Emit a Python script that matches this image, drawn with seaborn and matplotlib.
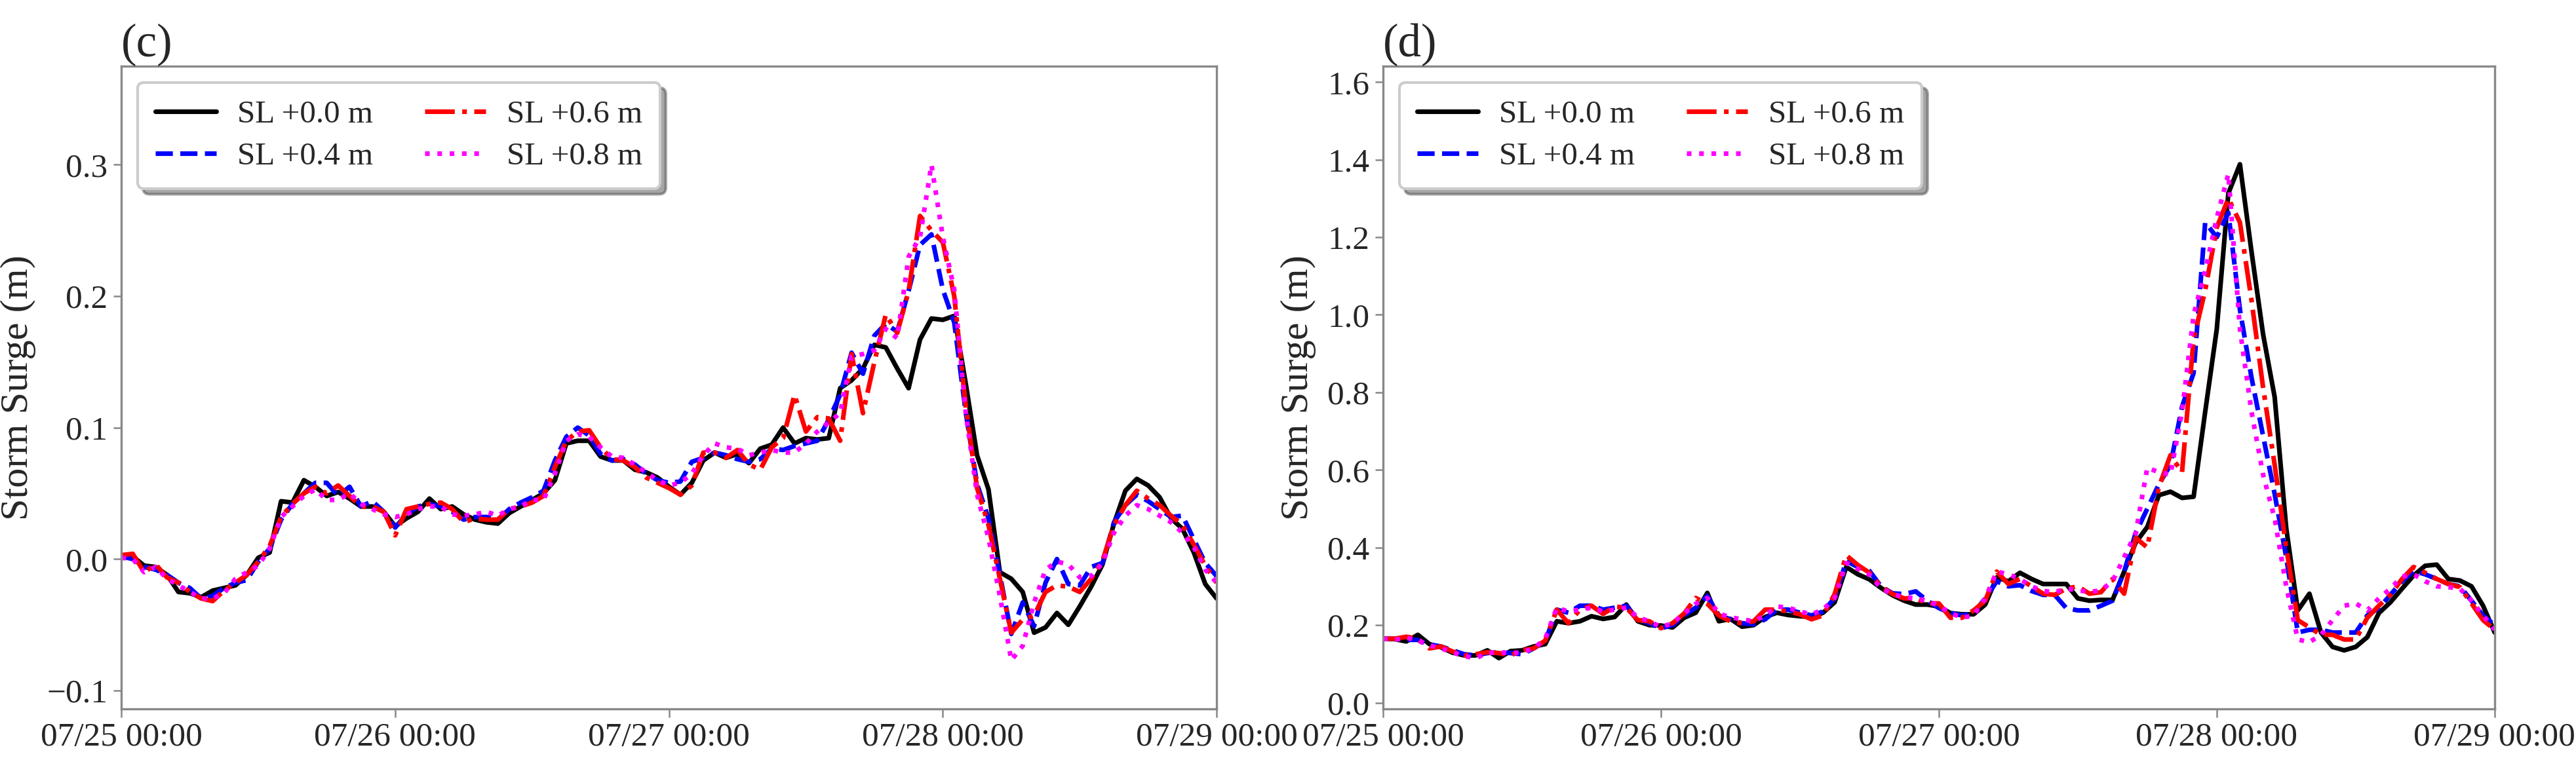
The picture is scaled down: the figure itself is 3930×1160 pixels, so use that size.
import matplotlib
matplotlib.use("Agg")
import matplotlib.pyplot as plt
import matplotlib.dates as mdates
import seaborn as sns
import pandas as pd

# hourly storm surge (m), 07/25 00:00 - 07/29 00:00
start = "2021-07-25 00:00"
labels = ["SL +0.0 m", "SL +0.4 m", "SL +0.6 m", "SL +0.8 m"]

c_sl00 = [0.003, 0.002, -0.005, -0.006, -0.012, -0.025, -0.026, -0.029, -0.024, -0.022, -0.020, -0.012,
          0.001, 0.005, 0.044, 0.043, 0.060, 0.055, 0.048, 0.051, 0.046, 0.040, 0.040, 0.036,
          0.025, 0.031, 0.036, 0.046, 0.038, 0.040, 0.034, 0.030, 0.028, 0.027, 0.035, 0.040,
          0.045, 0.050, 0.060, 0.088, 0.090, 0.090, 0.078, 0.075, 0.075, 0.068, 0.066, 0.062,
          0.055, 0.049, 0.058, 0.075, 0.081, 0.077, 0.080, 0.073, 0.084, 0.087, 0.100, 0.088,
          0.092, 0.091, 0.092, 0.130, 0.136, 0.145, 0.163, 0.161, 0.145, 0.130, 0.167, 0.183,
          0.182, 0.185, 0.134, 0.079, 0.053, -0.010, -0.015, -0.025, -0.056, -0.052, -0.041, -0.050,
          -0.036, -0.021, -0.004, 0.027, 0.052, 0.061, 0.056, 0.047, 0.031, 0.023, 0.005, -0.019,
          -0.030]
c_sl04 = [0.002, 0.000, -0.006, -0.008, -0.012, -0.018, -0.022, -0.030, -0.028, -0.022, -0.018, -0.016,
          -0.002, 0.008, 0.030, 0.042, 0.050, 0.058, 0.058, 0.048, 0.055, 0.040, 0.044, 0.036,
          0.024, 0.034, 0.040, 0.042, 0.040, 0.036, 0.030, 0.032, 0.032, 0.030, 0.038, 0.043,
          0.047, 0.052, 0.075, 0.093, 0.100, 0.094, 0.080, 0.075, 0.076, 0.072, 0.065, 0.060,
          0.058, 0.059, 0.074, 0.077, 0.081, 0.079, 0.076, 0.074, 0.076, 0.084, 0.083, 0.086,
          0.088, 0.090, 0.106, 0.125, 0.157, 0.141, 0.170, 0.179, 0.173, 0.204, 0.239, 0.247,
          0.205, 0.180, 0.112, 0.057, 0.031, -0.012, -0.057, -0.033, -0.051, -0.018, 0.000, -0.019,
          -0.020, -0.006, -0.003, 0.028, 0.041, 0.049, 0.044, 0.038, 0.032, 0.033, 0.015, -0.003,
          -0.013]
c_sl06 = [0.003, 0.004, -0.010, -0.004, -0.014, -0.018, -0.025, -0.030, -0.032, -0.024, -0.018, -0.012,
          -0.002, 0.010, 0.032, 0.042, 0.050, 0.055, 0.050, 0.056, 0.048, 0.040, 0.040, 0.036,
          0.018, 0.038, 0.040, 0.042, 0.043, 0.038, 0.028, 0.031, 0.030, 0.030, 0.038, 0.040,
          0.043, 0.048, 0.070, 0.090, 0.097, 0.098, 0.085, 0.076, 0.075, 0.070, 0.062, 0.058,
          0.054, 0.049, 0.056, 0.081, 0.081, 0.077, 0.083, 0.072, 0.068, 0.085, 0.092, 0.125,
          0.097, 0.108, 0.107, 0.090, 0.156, 0.111, 0.150, 0.186, 0.172, 0.204, 0.261, 0.250,
          0.241, 0.200, 0.117, 0.054, 0.026, -0.015, -0.056, -0.046, -0.043, -0.025, -0.020, -0.021,
          -0.025, -0.015, -0.001, 0.026, 0.041, 0.052, 0.046, 0.041, 0.033, 0.026, 0.011, -0.005,
          -0.018]
c_sl08 = [0.001, 0.000, -0.010, -0.006, -0.015, -0.020, -0.025, -0.030, -0.030, -0.026, -0.015, -0.010,
          -0.005, 0.008, 0.032, 0.040, 0.048, 0.053, 0.045, 0.045, 0.050, 0.042, 0.038, 0.034,
          0.032, 0.034, 0.038, 0.040, 0.040, 0.034, 0.033, 0.034, 0.036, 0.033, 0.038, 0.040,
          0.045, 0.045, 0.065, 0.090, 0.095, 0.093, 0.085, 0.078, 0.077, 0.072, 0.066, 0.060,
          0.056, 0.058, 0.065, 0.079, 0.088, 0.085, 0.084, 0.079, 0.081, 0.083, 0.081, 0.081,
          0.088, 0.097, 0.104, 0.111, 0.154, 0.156, 0.159, 0.175, 0.168, 0.230, 0.245, 0.300,
          0.245, 0.205, 0.112, 0.049, 0.016, -0.028, -0.077, -0.066, -0.033, -0.008, -0.002, -0.004,
          -0.014, -0.013, -0.003, 0.020, 0.033, 0.041, 0.038, 0.033, 0.028, 0.020, 0.009, -0.008,
          -0.018]

d_sl00 = [0.165, 0.164, 0.158, 0.175, 0.151, 0.143, 0.129, 0.122, 0.122, 0.135, 0.115, 0.133,
          0.135, 0.145, 0.151, 0.210, 0.205, 0.210, 0.223, 0.216, 0.221, 0.253, 0.210, 0.200,
          0.199, 0.194, 0.219, 0.232, 0.283, 0.210, 0.216, 0.196, 0.200, 0.221, 0.232, 0.226,
          0.223, 0.221, 0.232, 0.259, 0.350, 0.331, 0.318, 0.296, 0.277, 0.263, 0.253, 0.253,
          0.248, 0.231, 0.228, 0.228, 0.253, 0.323, 0.313, 0.335, 0.319, 0.306, 0.306, 0.306,
          0.269, 0.263, 0.265, 0.265, 0.338, 0.413, 0.453, 0.535, 0.544, 0.528, 0.531, 0.750,
          0.963, 1.313, 1.388, 1.163, 0.950, 0.788, 0.450, 0.238, 0.281, 0.181, 0.144, 0.135,
          0.144, 0.169, 0.231, 0.259, 0.294, 0.328, 0.353, 0.356, 0.319, 0.315, 0.300, 0.250,
          0.181]
d_sl04 = [0.165, 0.165, 0.162, 0.162, 0.150, 0.145, 0.135, 0.125, 0.122, 0.128, 0.130, 0.128,
          0.125, 0.140, 0.158, 0.240, 0.232, 0.250, 0.250, 0.240, 0.245, 0.250, 0.215, 0.205,
          0.192, 0.200, 0.225, 0.245, 0.275, 0.225, 0.215, 0.205, 0.202, 0.215, 0.240, 0.240,
          0.232, 0.225, 0.235, 0.270, 0.365, 0.350, 0.340, 0.300, 0.282, 0.280, 0.287, 0.263,
          0.244, 0.231, 0.225, 0.231, 0.269, 0.313, 0.300, 0.303, 0.288, 0.278, 0.278, 0.244,
          0.238, 0.238, 0.250, 0.263, 0.338, 0.438, 0.500, 0.563, 0.613, 0.763, 0.850, 1.238,
          1.200, 1.263, 1.013, 0.838, 0.688, 0.538, 0.375, 0.181, 0.188, 0.188, 0.181, 0.181,
          0.181, 0.225, 0.244, 0.278, 0.313, 0.340, 0.331, 0.319, 0.306, 0.300, 0.263, 0.225,
          0.200]
d_sl06 = [0.165, 0.165, 0.170, 0.165, 0.140, 0.145, 0.132, 0.122, 0.125, 0.130, 0.128, 0.122,
          0.135, 0.140, 0.160, 0.240, 0.205, 0.240, 0.250, 0.229, 0.248, 0.245, 0.213, 0.210,
          0.192, 0.205, 0.230, 0.270, 0.255, 0.225, 0.210, 0.205, 0.210, 0.240, 0.240, 0.235,
          0.228, 0.215, 0.225, 0.280, 0.380, 0.355, 0.335, 0.300, 0.280, 0.269, 0.269, 0.256,
          0.256, 0.219, 0.219, 0.238, 0.263, 0.338, 0.306, 0.319, 0.300, 0.281, 0.278, 0.294,
          0.300, 0.281, 0.285, 0.319, 0.281, 0.425, 0.400, 0.556, 0.638, 0.594, 0.938, 1.063,
          1.225, 1.300, 1.238, 1.038, 0.813, 0.613, 0.400, 0.213, 0.194, 0.175, 0.175, 0.163,
          0.163, 0.219, 0.250, 0.278, 0.319, 0.350, 0.335, 0.319, 0.306, 0.298, 0.256, 0.213,
          0.188]
d_sl08 = [0.165, 0.162, 0.168, 0.160, 0.148, 0.140, 0.130, 0.120, 0.115, 0.128, 0.130, 0.128,
          0.130, 0.140, 0.165, 0.245, 0.235, 0.240, 0.245, 0.235, 0.240, 0.245, 0.220, 0.210,
          0.195, 0.205, 0.230, 0.255, 0.270, 0.230, 0.220, 0.215, 0.210, 0.225, 0.248, 0.245,
          0.235, 0.228, 0.240, 0.270, 0.360, 0.345, 0.330, 0.295, 0.280, 0.272, 0.269, 0.263,
          0.250, 0.231, 0.219, 0.225, 0.269, 0.338, 0.331, 0.319, 0.300, 0.288, 0.285, 0.294,
          0.290, 0.285, 0.290, 0.313, 0.375, 0.438, 0.606, 0.594, 0.588, 0.750, 1.000, 1.113,
          1.250, 1.363, 0.963, 0.750, 0.588, 0.475, 0.300, 0.163, 0.156, 0.175, 0.213, 0.250,
          0.256, 0.238, 0.269, 0.294, 0.325, 0.331, 0.313, 0.300, 0.298, 0.294, 0.263, 0.225,
          0.188]

colors = ["black", "blue", "red", "magenta"]
styles = ["-", "--", "-.", ":"]

sns.set_style("ticks")
plt.rcParams["font.family"] = ["Liberation Serif", "DejaVu Serif"]

fig = plt.figure(figsize=(13.103, 3.867), dpi=300)
ax_c = fig.add_axes([0.0471, 0.0672, 0.4251, 0.8457])
ax_d = fig.add_axes([0.5368, 0.0672, 0.4314, 0.8457])

panels = [
    (ax_c, "(c)", [c_sl00, c_sl04, c_sl06, c_sl08], (-0.114, 0.375), [-0.1, 0.0, 0.1, 0.2, 0.3]),
    (ax_d, "(d)", [d_sl00, d_sl04, d_sl06, d_sl08], (-0.016, 1.641), [0.0, 0.2, 0.4, 0.6, 0.8, 1.0, 1.2, 1.4, 1.6]),
]

for ax, tag, series, ylim, yticks in panels:
    for vals, lab, col, ls in zip(series, labels, colors, styles):
        t = pd.date_range(start, periods=len(vals), freq="h")
        sns.lineplot(x=t, y=vals, ax=ax, color=col, linestyle=ls, linewidth=1.7, label=lab)
    t_all = pd.date_range(start, periods=97, freq="h")
    ax.set_xlim(t_all[0], t_all[-1])
    ax.set_ylim(*ylim)
    ax.set_yticks(yticks)
    ax.xaxis.set_major_locator(mdates.DayLocator())
    ax.xaxis.set_major_formatter(mdates.DateFormatter("%m/%d %H:%M"))
    ax.set_xlabel("")
    ax.set_ylabel("Storm Surge (m)", fontsize=14.5, labelpad=4)
    ax.tick_params(labelsize=12.3, length=3, width=0.6, color="#888888", pad=2)
    for sp in ax.spines.values():
        sp.set_visible(True)
        sp.set_color("#888888")
        sp.set_linewidth(0.8)
    ax.set_title(tag, loc="left", fontsize=17, pad=3)
    ax.legend(loc="upper left", ncol=2, fontsize=11.8, frameon=True, fancybox=True,
              shadow=True, handlelength=1.9, handletextpad=0.65, columnspacing=1.6,
              borderpad=0.55, labelspacing=0.4, framealpha=1.0, edgecolor="#cccccc")

fig.savefig("out.png", dpi=300)
